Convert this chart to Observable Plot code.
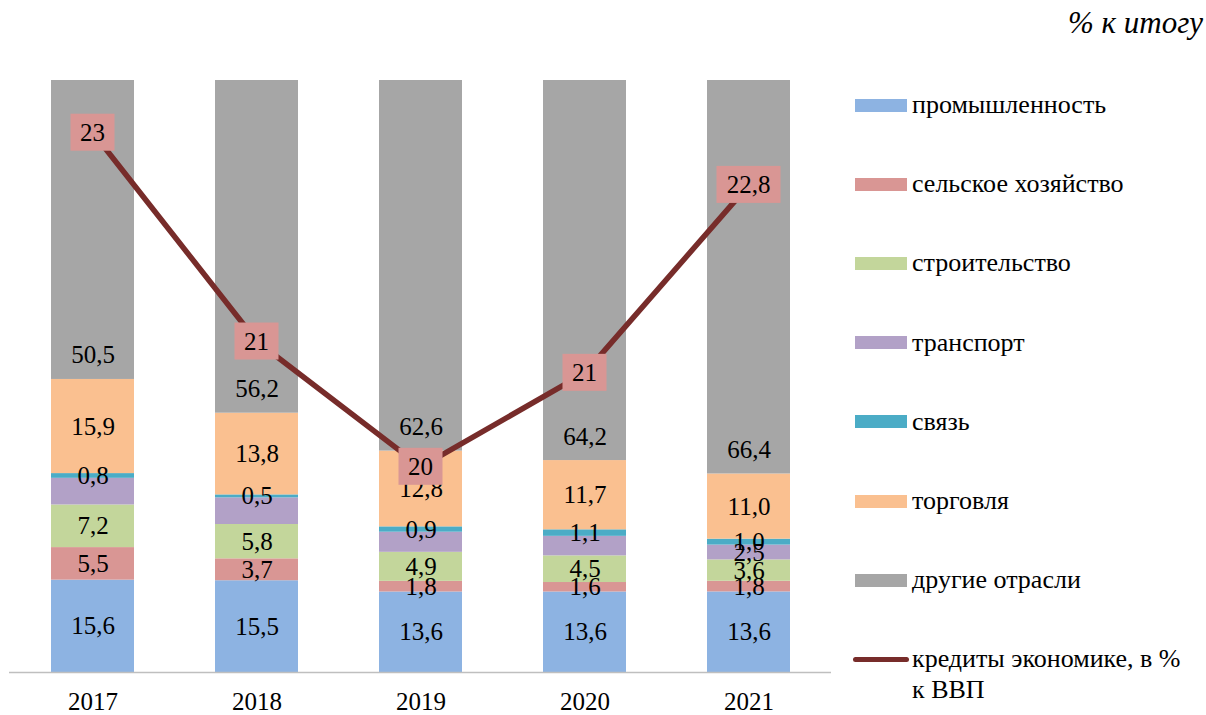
<!DOCTYPE html>
<html>
<head>
<meta charset="utf-8">
<script src="https://cdn.jsdelivr.net/npm/d3@7"></script>
<script src="https://cdn.jsdelivr.net/npm/@observablehq/plot@0.6"></script>
<style>
  html, body { margin: 0; padding: 0; background: #fff; }
  #wrap { position: relative; width: 1206px; height: 715px; font-family: "Liberation Serif", "Times New Roman", serif; color: #000; }
  #chart { position: absolute; left: 0; top: 0; }
  #chart svg, #chart svg text { font-family: "Liberation Serif", "Times New Roman", serif; }
  #title { position: absolute; right: 3px; top: 7px; font-style: italic; font-size: 31px; line-height: 1; }
  .lg { position: absolute; left: 912px; font-size: 26px; line-height: 31px; white-space: nowrap; }
  .sw { position: absolute; left: 855px; width: 52px; height: 13px; }
  .ln { position: absolute; left: 853px; width: 56px; height: 5px; border-radius: 3px; }
</style>
</head>
<body>
<div id="wrap">
  <div id="chart"></div>
  <div id="title">% к итогу</div>
  <div id="legend"></div>
</div>
<script>
const years = ["2017", "2018", "2019", "2020", "2021"];
const sectors = ["промышленность", "сельское хозяйство", "строительство", "транспорт", "связь", "торговля", "другие отрасли"];
const colors = ["#8DB3E2", "#D99694", "#C3D69B", "#B2A1C7", "#4BACC6", "#FAC090", "#A6A6A6"];

const industry     = [15.6, 15.5, 13.6, 13.6, 13.6];
const agriculture  = [5.5, 3.7, 1.8, 1.6, 1.8];
const construction = [7.2, 5.8, 4.9, 4.5, 3.6];
const transport    = [4.5, 4.5, 3.4, 3.3, 2.5];
const communication= [0.8, 0.5, 0.9, 1.1, 1.0];
const trade        = [15.9, 13.8, 12.8, 11.7, 11.0];
const other        = [50.5, 56.2, 62.6, 64.2, 66.4];
const seriesValues = [industry, agriculture, construction, transport, communication, trade, other];
// which data labels are shown (transport labels are absent for 2017-2020 in the original)
const transportLabelShown = [false, false, false, false, true];

const lineName = "кредиты экономике, в % к ВВП";
const creditValues = [23.3, 21.3, 20.1, 21.0, 22.8];
const creditLabels = ["23", "21", "20", "21", "22,8"];
const creditAxisDomain = [18.13, 23.8]; // secondary (hidden) axis

const fmt = v => d3.format(".1f")(v).replace(".", ",");
const topSector = sectors[sectors.length - 1];

const table = [];
sectors.forEach((s, si) => {
  years.forEach((y, yi) => {
    const v = seriesValues[si][yi];
    const show = s !== "транспорт" || transportLabelShown[yi];
    const lab = show ? fmt(v) : "";
    table.push({year: y, sector: s, value: v,
      midLabel: s === topSector ? "" : lab,
      baseLabel: s === topSector ? lab : ""});
  });
});

const credit = years.map((y, i) => ({year: y, value: creditValues[i], label: creditLabels[i]}));
const sec = d3.scaleLinear().domain(creditAxisDomain).range([0, 1]);
const FONT = '"Liberation Serif", "Times New Roman", serif';

function labelBoxes(index, scales, values, dimensions, context) {
  const g = d3.create("svg:g");
  const bw = typeof scales.x.bandwidth === "function" ? scales.x.bandwidth() : 0;
  credit.forEach(d => {
    const cx = scales.x(d.year) + bw / 2;
    const cy = scales.y(sec(d.value));
    const w = 10 * d.label.length + 24;
    const h = 37;
    g.append("rect").attr("x", cx - w / 2).attr("y", cy - h / 2).attr("width", w).attr("height", h).attr("fill", "#D99694");
    g.append("text").attr("x", cx).attr("y", cy).attr("dy", "0.35em").attr("text-anchor", "middle")
      .attr("font-size", 25).attr("font-family", FONT).attr("fill", "#000").text(d.label);
  });
  return g.node();
}

const stackOpts = {x: "year", y: "value", z: "sector", offset: "normalize", order: null};

const chart = Plot.plot({
  width: 840,
  height: 715,
  marginTop: 80,
  marginBottom: 43,
  marginLeft: 9,
  marginRight: 9,
  style: {fontFamily: FONT, background: "transparent"},
  x: {domain: years, paddingInner: 0.495, paddingOuter: 0.2475, label: null},
  y: {domain: [0, 1], axis: null},
  color: {domain: sectors, range: colors},
  marks: [
    Plot.barY(table, Plot.stackY({...stackOpts, fill: "sector"})),
    Plot.text(table, Plot.stackY({...stackOpts, text: "midLabel", fontSize: 25, fill: "#000"})),
    Plot.text(table, Plot.stackY1({...stackOpts, text: "baseLabel", fontSize: 25, fill: "#000", dy: -24})),
    Plot.ruleY([0], {stroke: "#BFBFBF", strokeWidth: 1.5}),
    Plot.axisX({tickSize: 0, tickPadding: 20, fontSize: 25, label: null, fill: "#000"}),
    Plot.line(credit, {x: "year", y: d => sec(d.value), stroke: "#772C2A", strokeWidth: 5.5, strokeLinejoin: "round", strokeLinecap: "round"}),
    labelBoxes
  ]
});
document.getElementById("chart").appendChild(chart);

// legend
const legend = document.getElementById("legend");
const rowCenters = sectors.map((s, i) => 105 + i * 79.2);
sectors.forEach((s, i) => {
  const c = rowCenters[i];
  const sw = document.createElement("div");
  sw.className = "sw"; sw.style.top = (c - 6.5) + "px"; sw.style.background = colors[i];
  legend.appendChild(sw);
  const t = document.createElement("div");
  t.className = "lg"; t.style.top = (c - 16) + "px"; t.textContent = s;
  legend.appendChild(t);
});
const lc = 659;
const ln = document.createElement("div");
ln.className = "ln"; ln.style.top = (lc - 2.5) + "px"; ln.style.background = "#772C2A";
legend.appendChild(ln);
const lt = document.createElement("div");
lt.className = "lg"; lt.style.top = (lc - 16) + "px"; lt.innerHTML = "кредиты экономике, в %<br>к ВВП";
legend.appendChild(lt);
</script>
</body>
</html>
